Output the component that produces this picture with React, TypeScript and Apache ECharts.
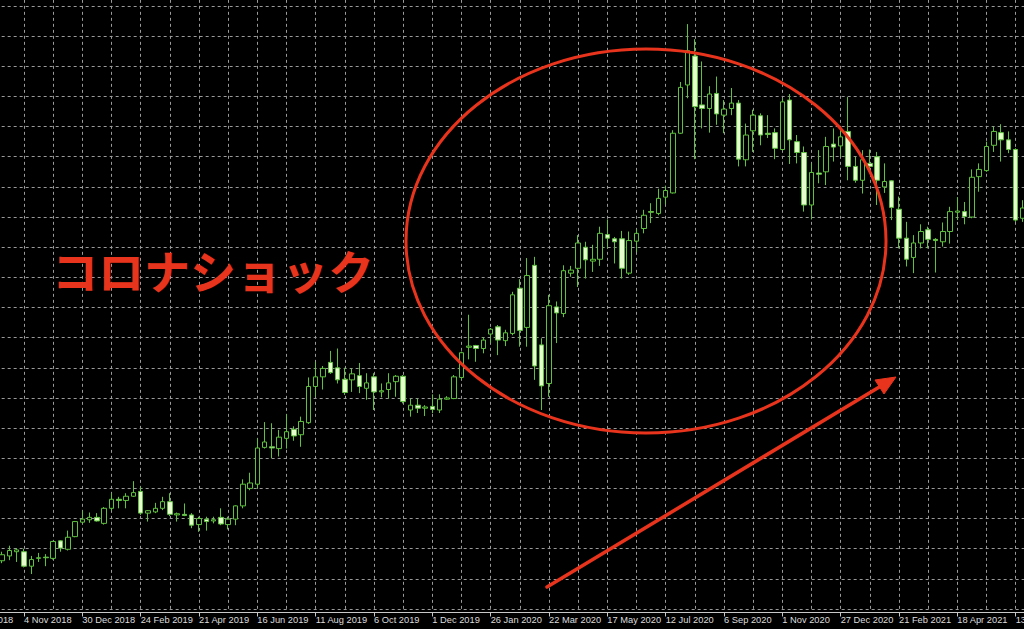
import React, { useEffect, useRef } from 'react';
import * as echarts from 'echarts';

// Weekly candles (gold, weekly). Each row: [open, close, low, high]
const FIRST_WEEK_UTC = Date.UTC(2018, 8, 9); // 9 Sep 2018 (first category, partly off-screen)
const WEEK_COUNT = 147;
const MONTHS = ['Jan', 'Feb', 'Mar', 'Apr', 'May', 'Jun', 'Jul', 'Aug', 'Sep', 'Oct', 'Nov', 'Dec'];

const tickLabels = [
  '9 Sep 2018', '4 Nov 2018', '30 Dec 2018', '24 Feb 2019', '21 Apr 2019', '16 Jun 2019',
  '11 Aug 2019', '6 Oct 2019', '1 Dec 2019', '26 Jan 2020', '22 Mar 2020', '17 May 2020',
  '12 Jul 2020', '6 Sep 2020', '1 Nov 2020', '27 Dec 2020', '21 Feb 2021', '18 Apr 2021',
  '13 Jun 2021',
];

const EMPTY = ['-', '-', '-', '-'];

// 9 Sep – 7 Oct 2018: outside the visible area
const leadingWeeks = [EMPTY, EMPTY, EMPTY, EMPTY, EMPTY];

// 14 Oct – 30 Dec 2018
const candles2018 = [
  [1180, 1190, 1176, 1195], [1188, 1197, 1181, 1205], [1195, 1198, 1178, 1201], [1195, 1171, 1169, 1200],
  [1171, 1182, 1158, 1188], [1184, 1185, 1178, 1193], [1186, 1185, 1171, 1191], [1184, 1212, 1182, 1213],
  [1213, 1201, 1195, 1214], [1199, 1219, 1197, 1230], [1220, 1245, 1219, 1246], [1244, 1249, 1242, 1263],
];

// 6 Jan – 29 Dec 2019
const candles2019 = [
  [1248, 1252, 1243, 1260], [1252, 1246, 1245, 1259], [1242, 1267, 1240, 1269], [1267, 1282, 1263, 1292],
  [1282, 1280, 1267, 1286], [1280, 1287, 1267, 1292], [1287, 1293, 1286, 1312], [1295, 1259, 1256, 1303],
  [1259, 1263, 1245, 1264], [1261, 1267, 1259, 1276], [1267, 1278, 1264, 1286], [1278, 1257, 1254, 1292],
  [1256, 1258, 1245, 1260], [1257, 1255, 1254, 1275], [1256, 1239, 1234, 1259], [1240, 1250, 1228, 1253],
  [1249, 1245, 1230, 1253], [1246, 1248, 1242, 1253], [1252, 1241, 1239, 1267], [1240, 1249, 1232, 1253],
  [1249, 1271, 1239, 1272], [1271, 1307, 1267, 1315], [1300, 1309, 1297, 1326], [1307, 1367, 1300, 1383],
  [1368, 1377, 1366, 1410], [1369, 1367, 1350, 1408], [1366, 1385, 1353, 1397], [1383, 1394, 1366, 1423],
  [1398, 1387, 1379, 1403], [1389, 1411, 1369, 1419], [1409, 1469, 1407, 1484], [1469, 1485, 1452, 1510],
  [1485, 1499, 1464, 1503], [1509, 1492, 1490, 1528], [1500, 1480, 1474, 1532], [1481, 1459, 1455, 1500],
  [1480, 1490, 1460, 1499], [1487, 1469, 1458, 1508], [1466, 1475, 1447, 1491], [1485, 1460, 1430, 1491],
  [1460, 1462, 1451, 1474], [1464, 1475, 1449, 1491], [1477, 1486, 1452, 1488], [1486, 1444, 1441, 1488],
  [1430, 1438, 1419, 1449], [1438, 1433, 1425, 1449], [1433, 1435, 1420, 1438], [1436, 1431, 1425, 1456],
  [1430, 1448, 1425, 1456], [1448, 1450, 1447, 1453], [1449, 1485, 1448, 1488], [1484, 1525, 1480, 1527],
];

// 5 Jan – 27 Dec 2020
const candles2020 = [
  [1534, 1536, 1514, 1588], [1537, 1532, 1510, 1538], [1532, 1546, 1524, 1551], [1556, 1564, 1541, 1566],
  [1568, 1546, 1521, 1571], [1545, 1558, 1536, 1563], [1557, 1621, 1554, 1626], [1632, 1562, 1535, 1647],
  [1567, 1653, 1535, 1682], [1670, 1503, 1480, 1684], [1538, 1470, 1430, 1549], [1474, 1603, 1452, 1621],
  [1601, 1591, 1541, 1610], [1590, 1661, 1584, 1670], [1657, 1662, 1651, 1669], [1665, 1707, 1634, 1720],
  [1700, 1679, 1648, 1709], [1677, 1680, 1659, 1704], [1680, 1723, 1669, 1734], [1721, 1715, 1698, 1746],
  [1714, 1709, 1673, 1717], [1714, 1665, 1648, 1727], [1657, 1711, 1654, 1726], [1710, 1723, 1692, 1730],
  [1731, 1753, 1723, 1762], [1759, 1758, 1740, 1773], [1756, 1781, 1753, 1797], [1783, 1794, 1771, 1802],
  [1790, 1889, 1789, 1894], [1889, 1965, 1888, 1974], [1969, 2026, 1947, 2070], [2017, 1933, 1846, 2045],
  [1936, 1930, 1897, 2008], [1930, 1954, 1890, 1967], [1955, 1921, 1903, 1983], [1919, 1929, 1889, 1944],
  [1930, 1939, 1919, 1964], [1939, 1846, 1834, 1944], [1845, 1886, 1834, 1905], [1893, 1919, 1858, 1928],
  [1918, 1886, 1869, 1922], [1889, 1887, 1881, 1919], [1890, 1864, 1846, 1897], [1862, 1941, 1860, 1947],
  [1944, 1878, 1838, 1954], [1875, 1857, 1839, 1886], [1857, 1770, 1759, 1867], [1770, 1824, 1746, 1839],
  [1823, 1821, 1806, 1861], [1825, 1867, 1803, 1883], [1871, 1866, 1842, 1897], [1868, 1883, 1850, 1897],
];

// 3 Jan – 20 Jun 2021
const candles2021 = [
  [1892, 1834, 1811, 1949], [1834, 1811, 1807, 1850], [1811, 1845, 1789, 1861], [1839, 1834, 1823, 1862],
  [1850, 1811, 1770, 1858], [1800, 1809, 1790, 1839], [1810, 1766, 1745, 1811], [1763, 1715, 1698, 1784],
  [1715, 1680, 1668, 1742], [1683, 1707, 1657, 1720], [1707, 1726, 1698, 1738], [1729, 1713, 1698, 1734],
  [1713, 1711, 1658, 1715], [1709, 1726, 1701, 1741], [1726, 1759, 1706, 1767], [1758, 1760, 1745, 1783],
  [1759, 1751, 1738, 1775], [1750, 1816, 1748, 1829], [1817, 1829, 1792, 1839], [1827, 1867, 1825, 1875],
  [1869, 1892, 1858, 1900], [1890, 1878, 1842, 1904], [1878, 1862, 1856, 1892], [1862, 1745, 1742, 1864],
  [1748, 1765, 1742, 1778],
];

// 27 Jun 2021: next (empty) week at the right edge
const trailingWeeks = [EMPTY];

const annotationText = 'コロナショック';

function buildWeeks(): string[] {
  const out: string[] = [];
  for (let i = 0; i < WEEK_COUNT; i++) {
    const d = new Date(FIRST_WEEK_UTC + i * 7 * 86400000);
    out.push(`${d.getUTCDate()} ${MONTHS[d.getUTCMonth()]} ${d.getUTCFullYear()}`);
  }
  return out;
}

const RED = '#e8341c';
const GREEN = '#5ec23f';
const GRID_COLOR = '#9a9a9a';
const AXIS_COLOR = '#c8c8c8';

export default function App() {
  const ref = useRef<HTMLDivElement>(null);

  useEffect(() => {
    const el = ref.current;
    if (!el) return;
    const weeks = buildWeeks();
    const labelSet = new Set(tickLabels);
    const isLabel = (_i: number, v: string) => labelSet.has(v);
    const data = [...leadingWeeks, ...candles2018, ...candles2019, ...candles2020, ...candles2021, ...trailingWeeks];

    const chart = echarts.init(el, null, { renderer: 'svg', width: 1024, height: 629 });
    chart.setOption({
      animation: false,
      backgroundColor: '#000000',
      grid: {
        left: -34.33,
        right: -6.25,
        top: -24.15,
        bottom: 20,
        containLabel: false,
        outerBoundsMode: 'none',
      },
      xAxis: {
        type: 'category',
        data: weeks,
        boundaryGap: false,
        offset: 3.5,
        axisLine: { show: true, lineStyle: { color: AXIS_COLOR, width: 1 } },
        axisTick: { show: true, interval: isLabel, length: 4, lineStyle: { color: AXIS_COLOR } },
        axisLabel: {
          show: true,
          interval: isLabel,
          align: 'left',
          margin: 3,
          color: '#dcdcdc',
          fontFamily: "'Liberation Sans', Arial, sans-serif",
          fontSize: 9.3,
          hideOverlap: false,
        },
        splitLine: {
          show: true,
          interval: (i: number) => i % 4 === 0,
          lineStyle: { color: GRID_COLOR, type: [3, 3], width: 1 },
        },
      },
      yAxis: {
        type: 'value',
        min: 1100,
        max: 2150,
        interval: 50,
        axisLine: { show: false },
        axisTick: { show: false },
        axisLabel: { show: false },
        splitLine: { show: true, lineStyle: { color: GRID_COLOR, type: [3, 3], width: 1 } },
      },
      series: [
        {
          type: 'candlestick',
          data,
          barWidth: 5,
          itemStyle: {
            color: '#000000',
            color0: '#e6fccf',
            borderColor: GREEN,
            borderColor0: GREEN,
            borderWidth: 1,
          },
        },
      ],
      graphic: [
        {
          type: 'ellipse',
          shape: { cx: 646, cy: 241, rx: 240, ry: 192 },
          style: { fill: 'none', stroke: RED, lineWidth: 3 },
          z: 100,
        },
        {
          type: 'line',
          shape: { x1: 547, y1: 587, x2: 881, y2: 386 },
          style: { stroke: RED, lineWidth: 3.5, lineCap: 'round' },
          z: 100,
        },
        {
          type: 'polygon',
          shape: { points: [[896, 377], [875, 380], [884, 394]] },
          style: { fill: RED, stroke: RED, lineWidth: 1 },
          z: 100,
        },
        {
          type: 'text',
          x: 52,
          y: 269,
          style: {
            text: annotationText,
            fill: RED,
            fontSize: 46,
            fontWeight: 'bold',
            fontFamily: "'Noto Sans CJK JP', sans-serif",
            verticalAlign: 'middle',
            align: 'left',
          },
          z: 100,
        },
      ],
    });
    return () => chart.dispose();
  }, []);

  return (
    <div
      ref={ref}
      style={{ position: 'fixed', left: 0, top: 0, width: 1024, height: 629, background: '#000' }}
    />
  );
}
